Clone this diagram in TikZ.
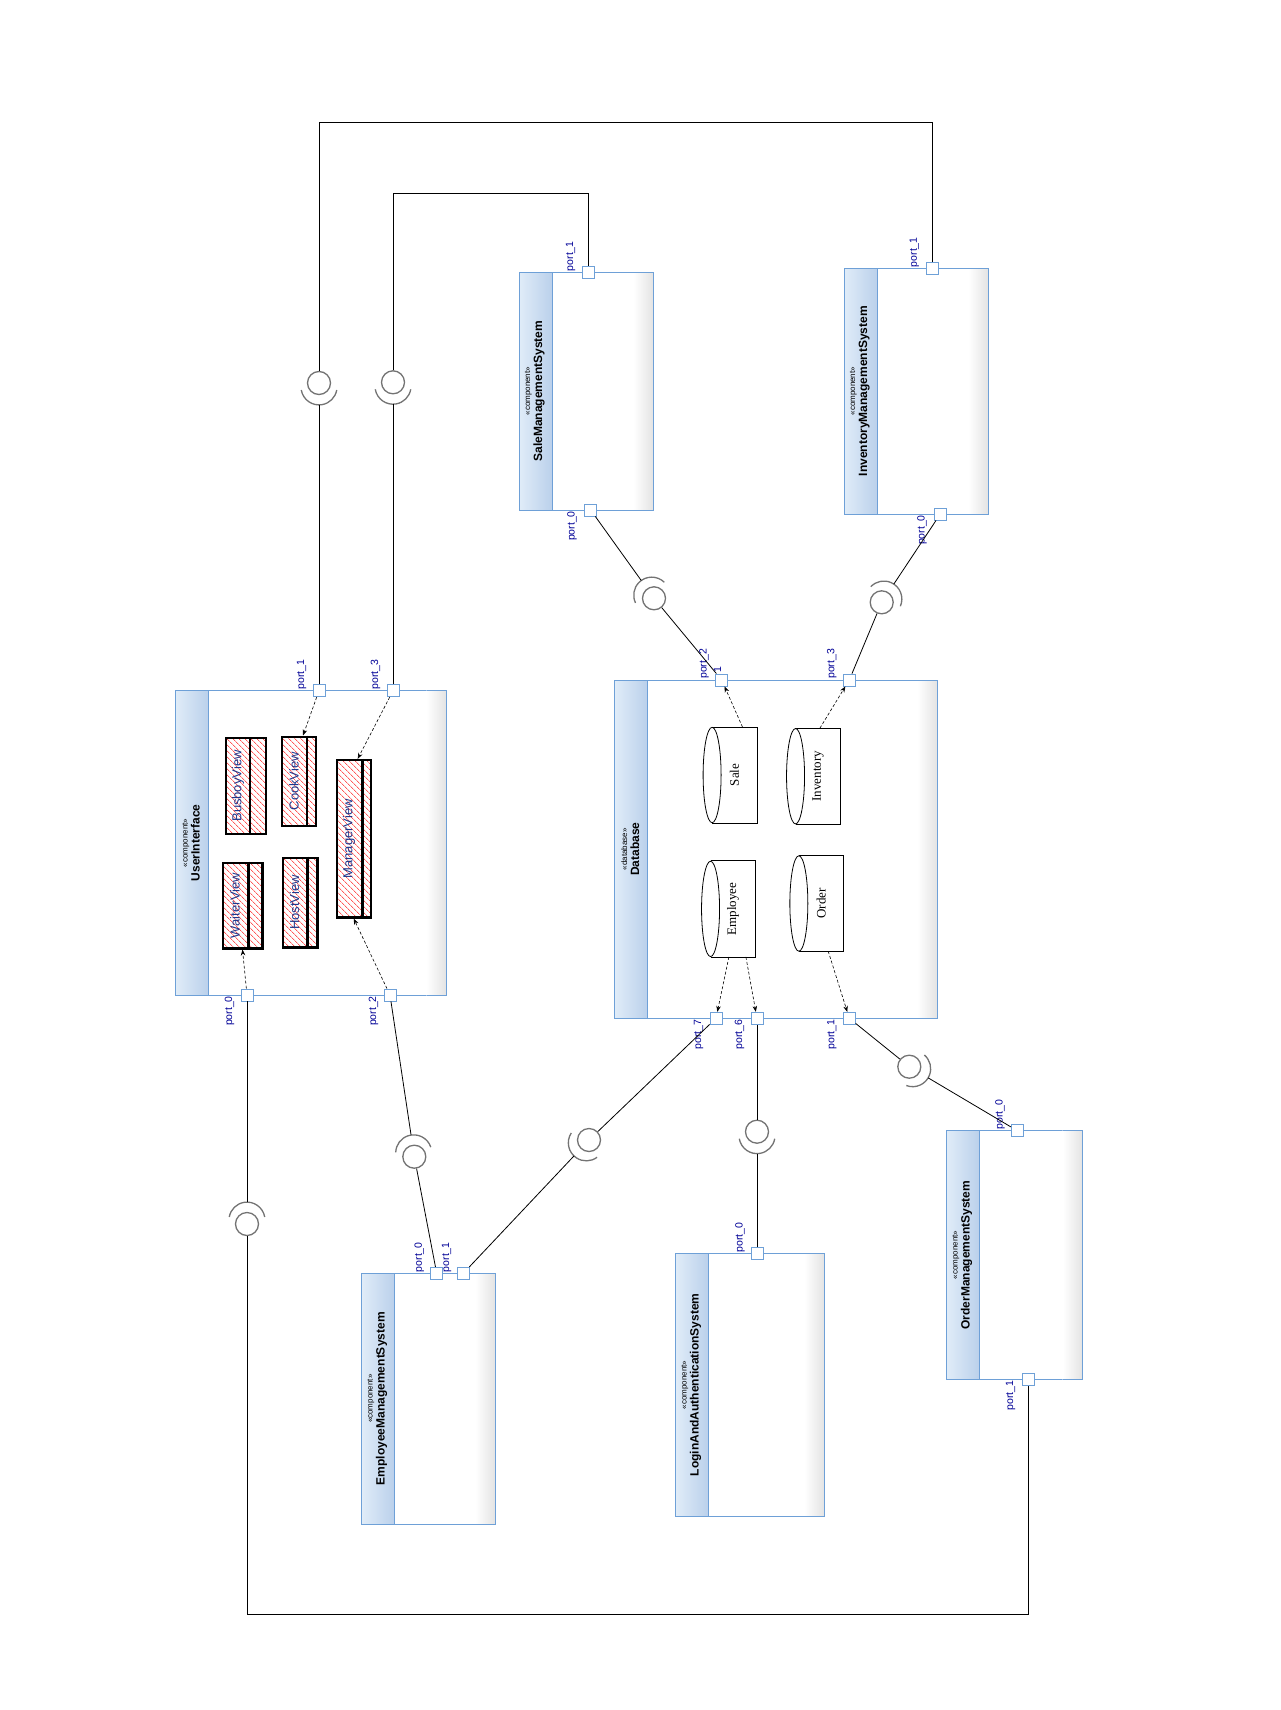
\documentclass[tikz,border=0pt]{standalone}
\usepackage{fontspec}
\setmainfont{Liberation Sans}
\newfontfamily\cylfont{Liberation Serif}
\usepackage{graphicx}
\usepackage{tikz}
\usetikzlibrary{arrows.meta,calc,patterns.meta,positioning}
\definecolor{boxblue}{RGB}{110,160,215}
\definecolor{headlight}{RGB}{224,236,248}
\definecolor{headdark}{RGB}{186,208,235}
\definecolor{portnavy}{RGB}{0,0,150}
\definecolor{viewblue}{RGB}{30,55,140}
\definecolor{lolligray}{RGB}{115,115,115}
\newcommand{\stereofont}{\mdseries\fontsize{8}{8}\selectfont}
% ball at #2, socket opening towards angle #3
\newcommand{\lolli}[3]{%
  \node[ball] (#1) at #2 {};
  \draw[sock] ($(#1)+(#3:3.9)+(#3-80:18)$) arc[start angle=#3-80, end angle=#3+80, radius=18];
  \coordinate (#1s) at ($(#1)+(#3:21.9)$);}

\begin{document}
\begin{tikzpicture}[x=1pt, y=1pt,
  body/.style={rectangle, draw=boxblue, line width=0.9pt, fill=white, anchor=north west, inner sep=0, outer sep=0},
  head/.style={rectangle, draw=boxblue, line width=0.9pt, left color=headlight, right color=headdark, anchor=north west, minimum width=33pt, inner sep=0, outer sep=0},
  title/.style={rotate=90, align=center, inner sep=0, font=\bfseries\fontsize{12}{12}\selectfont},
  port/.style={rectangle, draw=boxblue, line width=0.8pt, fill=white, minimum size=12pt, inner sep=0},
  plabel/.style={rotate=90, inner sep=1pt, text=portnavy, font=\fontsize{10.5}{10.5}\selectfont},
  view/.style={rectangle, draw=black, line width=2.4pt, pattern={Lines[angle=-45, distance=4pt, line width=0.5pt]}, pattern color=red, inner sep=0},
  viewtext/.style={rotate=90, inner sep=0, text=viewblue, font=\fontsize{13}{13}\selectfont},
  cyl/.style={rectangle, inner sep=0, font=\cylfont\fontsize{13}{13}\selectfont},
  dep/.style={draw=black, line width=0.6pt, dash pattern=on 3pt off 2pt, -{Stealth[length=6pt, width=4.5pt]}},
  wire/.style={draw=black, line width=0.8pt},
  ball/.style={circle, draw=lolligray, line width=1.3pt, fill=white, minimum size=23pt, inner sep=0},
  sock/.style={draw=lolligray, line width=1.3pt}]
\useasboundingbox (0,0) rectangle (1280,-1710);

% components
\node[body, minimum width=271pt, minimum height=304.3pt] (ui) at (175.5,-690.7) {};
\node[head, minimum height=304.3pt] (ui-h) at (ui.north west) {};
\node[title] (ui-t) at ([xshift=-1pt]ui-h.center) {{\stereofont «component»}\\UserInterface};

\node[body, minimum width=322.6pt, minimum height=338.3pt] (db) at (614.7,-680) {};
\node[head, minimum height=338.3pt] (db-h) at (db.north west) {};
\node[title] (db-t) at ([xshift=-1pt]db-h.center) {{\stereofont «database»}\\Database};

\node[body, minimum width=134pt, minimum height=237.7pt] (salesys) at (519.3,-272.3) {};
\node[head, minimum height=237.7pt] (salesys-h) at (salesys.north west) {};
\node[title] (salesys-t) at ([xshift=-1pt]salesys-h.center) {{\stereofont «component»}\\SaleManagementSystem};

\node[body, minimum width=144pt, minimum height=245.7pt] (invsys) at (844.3,-268.3) {};
\node[head, minimum height=245.7pt] (invsys-h) at (invsys.north west) {};
\node[title] (invsys-t) at ([xshift=-1pt]invsys-h.center) {{\stereofont «component»}\\InventoryManagementSystem};

\node[body, minimum width=133.6pt, minimum height=250.7pt] (empsys) at (361.7,-1273.3) {};
\node[head, minimum height=250.7pt] (empsys-h) at (empsys.north west) {};
\node[title] (empsys-t) at ([xshift=-1pt]empsys-h.center) {{\stereofont «component»}\\EmployeeManagementSystem};

\node[body, minimum width=148.6pt, minimum height=262.3pt] (loginsys) at (675.7,-1253.7) {};
\node[head, minimum height=262.3pt] (loginsys-h) at (loginsys.north west) {};
\node[title] (loginsys-t) at ([xshift=-1pt]loginsys-h.center) {{\stereofont «component»}\\LoginAndAuthenticationSystem};

\node[body, minimum width=136pt, minimum height=248.6pt] (ordsys) at (946.7,-1130.7) {};
\node[head, minimum height=248.6pt] (ordsys-h) at (ordsys.north west) {};
\node[title] (ordsys-t) at ([xshift=-1pt]ordsys-h.center) {{\stereofont «component»}\\OrderManagementSystem};

% grey fade on the right side of each body
\foreach \c in {ui,db,salesys,invsys,empsys,loginsys,ordsys}{
  \shade[left color=white, right color=black!11] ([xshift=-20pt]\c.north east) rectangle (\c.south east);
  \draw[boxblue, line width=0.9pt] ([xshift=-20pt]\c.north east) -- (\c.north east) -- (\c.south east) -- ([xshift=-20pt]\c.south east);
}

% views inside UserInterface
\node[view, minimum width=40pt, minimum height=96pt] (busboy) at (246,-786) {};
\draw[line width=2.2pt] ([xshift=-16pt]busboy.north east) -- ([xshift=-16pt]busboy.south east);
\node[viewtext] (busboy-t) at ([xshift=-8pt]busboy.center) {BusboyView};
\node[view, minimum width=34pt, minimum height=89pt] (cook) at (299,-781.2) {};
\draw[line width=2.2pt] ([xshift=-10pt]cook.north east) -- ([xshift=-10pt]cook.south east);
\node[viewtext] (cook-t) at ([xshift=-5pt]cook.center) {CookView};
\node[view, minimum width=39.6pt, minimum height=85.6pt] (waiter) at (242.5,-905.5) {};
\draw[line width=2.2pt] ([xshift=-15pt]waiter.north east) -- ([xshift=-15pt]waiter.south east);
\node[viewtext] (waiter-t) at ([xshift=-7.5pt]waiter.center) {WaiterView};
\node[view, minimum width=34.6pt, minimum height=89.6pt] (host) at (300,-902.5) {};
\draw[line width=2.2pt] ([xshift=-11pt]host.north east) -- ([xshift=-11pt]host.south east);
\node[viewtext] (host-t) at ([xshift=-5.5pt]host.center) {HostView};
\node[view, minimum width=34pt, minimum height=157.3pt] (manager) at (353.7,-838.7) {};
\draw[line width=2.2pt] ([xshift=-9.4pt]manager.north east) -- ([xshift=-9.4pt]manager.south east);
\node[viewtext] (manager-t) at ([xshift=-4.7pt]manager.center) {ManagerView};

% tables inside Database
\node[cyl, minimum width=44.4pt, minimum height=95.4pt] (tsale) at (734.5,-775) {\rotatebox{90}{Sale}};
\node[cyl, minimum width=44.3pt, minimum height=95.7pt] (tinv) at (817.9,-776.2) {\rotatebox{90}{Inventory}};
\node[cyl, minimum width=44.3pt, minimum height=95.7pt] (temp) at (732.9,-908.9) {\rotatebox{90}{Employee}};
\node[cyl, minimum width=44.3pt, minimum height=95pt] (tord) at (821.2,-903.5) {\rotatebox{90}{Order}};
\foreach \t in {tsale,tinv,temp,tord}{
  \draw[line width=0.8pt] (\t.north west) -- (\t.north east) -- (\t.south east) -- (\t.south west);
  \draw[line width=0.8pt, fill=white] (\t.west) ellipse [x radius=9, y radius=47.7];
}

% ports
\node[port] (ui-p1) at (319,-690.7) {};
\node[port] (ui-p3) at (393,-690.7) {};
\node[port] (ui-p0) at (247,-995) {};
\node[port] (ui-p2) at (390,-995) {};
\node[port] (db-p2) at (721.7,-680) {};
\node[port] (db-p3) at (849.3,-680) {};
\node[port] (db-p7) at (716,-1018.3) {};
\node[port] (db-p6) at (757,-1018.3) {};
\node[port] (db-p1) at (849.3,-1018.3) {};
\node[port] (sale-p1) at (588,-272.3) {};
\node[port] (sale-p0) at (590.7,-510) {};
\node[port] (inv-p1) at (932.3,-268.3) {};
\node[port] (inv-p0) at (940.3,-514) {};
\node[port] (emp-p0) at (436.7,-1273.3) {};
\node[port] (emp-p1) at (463.3,-1273.3) {};
\node[port] (login-p0) at (757,-1253.7) {};
\node[port] (ord-p0) at (1017.3,-1130.7) {};
\node[port] (ord-p1) at (1028.3,-1379.3) {};

% port labels
\node[plabel, anchor=west] (ui-l1) at (301.5,-690.7) {port\_1};
\node[plabel, anchor=west] (ui-l3) at (375.5,-690.7) {port\_3};
\node[plabel, anchor=east] (ui-l0) at (229.5,-995) {port\_0};
\node[plabel, anchor=east] (ui-l2) at (373.5,-995) {port\_2};
\node[plabel, anchor=west] (db-l2) at (704,-680) {port\_2};
\node[plabel, anchor=west] (db-one) at (717.5,-674) {1};
\node[plabel, anchor=west] (db-l3) at (831.8,-680) {port\_3};
\node[plabel, anchor=east] (db-l7) at (698.5,-1018.3) {port\_7};
\node[plabel, anchor=east] (db-l6) at (739.5,-1018.3) {port\_6};
\node[plabel, anchor=east] (db-l1) at (831.8,-1018.3) {port\_1};
\node[plabel, anchor=west] (sale-l1) at (570.5,-272.3) {port\_1};
\node[plabel, anchor=east] (sale-l0) at (572,-510) {port\_0};
\node[plabel, anchor=west] (inv-l1) at (914.3,-268.3) {port\_1};
\node[plabel, anchor=east] (inv-l0) at (922,-514) {port\_0};
\node[plabel, anchor=west] (emp-l0) at (419.3,-1273.3) {port\_0};
\node[plabel, anchor=west] (emp-l1) at (446.5,-1273.3) {port\_1};
\node[plabel, anchor=west] (login-l0) at (740,-1253.7) {port\_0};
\node[plabel, anchor=west] (ord-l0) at (1000,-1130.7) {port\_0};
\node[plabel, anchor=east] (ord-l1) at (1010.5,-1379.3) {port\_1};

% dependencies
\draw[dep] (ui-p1) -- ([xshift=4pt]cook.north);
\draw[dep] (ui-p3) -- ([xshift=4pt]manager.north);
\draw[dep] (ui-p0) -- (waiter.south);
\draw[dep] (ui-p2) -- (manager.south);
\draw[dep] ([xshift=8pt]tsale.north) -- (db-p2);
\draw[dep] ([xshift=2pt]tinv.north) -- (db-p3);
\draw[dep] ([xshift=-4pt]temp.south) -- (db-p7);
\draw[dep] ([xshift=13pt]temp.south) -- (db-p6);
\draw[dep] ([xshift=7pt]tord.south) -- (db-p1);

% assembly connectors
\lolli{l1}{(319,-383)}{-90}
\lolli{l2}{(393,-382.3)}{-90}
\lolli{l3}{(654,-598.3)}{125.6}
\lolli{l4}{(881.7,-602.3)}{56.4}
\lolli{l5}{(247,-1224)}{90}
\lolli{l6}{(414.3,-1156.7)}{98.5}
\lolli{l7}{(589,-1140)}{-133.3}
\lolli{l8}{(757,-1131.7)}{-90}
\lolli{l9}{(909.3,-1066.7)}{-30.6}

\coordinate (bend1a) at (319,-122);
\coordinate (bend1b) at (932.3,-122);
\coordinate (bend2a) at (393,-193);
\coordinate (bend2b) at (588,-193);
\coordinate (bend5a) at (247,-1614.7);
\coordinate (bend5b) at (1028.3,-1614.7);

\draw[wire] (ui-p1) -- (l1s);
\draw[wire] (ui-p3) -- (l2s);
\draw[wire] (sale-p0) -- (l3s);
\draw[wire] (inv-p0) -- (l4s);
\draw[wire] (ui-p0) -- (l5s);
\draw[wire] (ui-p2) -- (l6s);
\draw[wire] (emp-p1) -- (l7s);
\draw[wire] (login-p0) -- (l8s);
\draw[wire] (ord-p0) -- (l9s);

\draw[wire] (l1) -- (bend1a) -- (bend1b) -- (inv-p1);
\draw[wire] (l2) -- (bend2a) -- (bend2b) -- (sale-p1);
\draw[wire] (l3) -- (db-p2);
\draw[wire] (l4) -- (db-p3);
\draw[wire] (l5) -- (bend5a) -- (bend5b) -- (ord-p1);
\draw[wire] (l6) -- (emp-p0);
\draw[wire] (l7) -- (db-p7);
\draw[wire] (l8) -- (db-p6);
\draw[wire] (l9) -- (db-p1);
\end{tikzpicture}
\end{document}
